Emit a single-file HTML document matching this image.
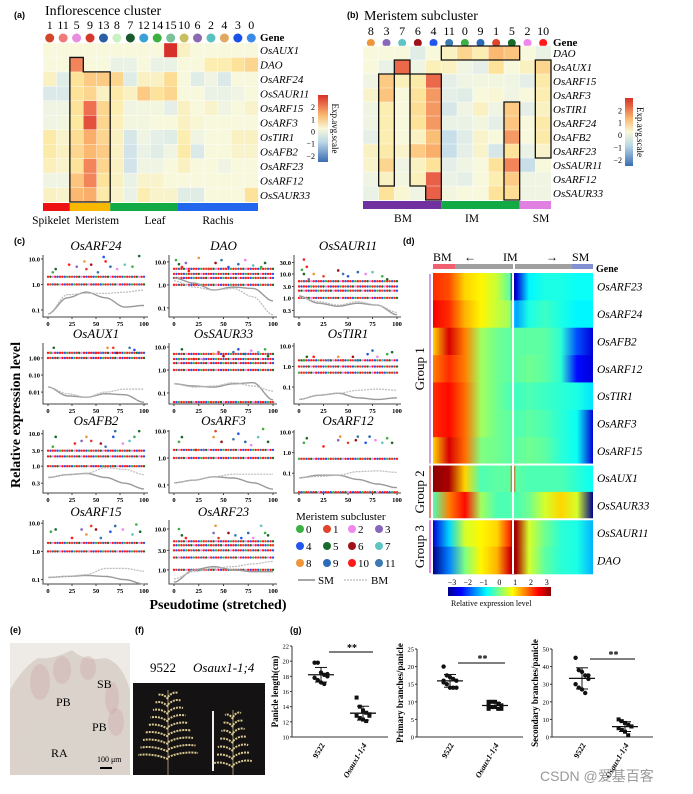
<!DOCTYPE html>
<html><head><meta charset="utf-8">
<style>
html,body{margin:0;padding:0;background:#fff;}
svg{display:block;}
text{font-family:"Liberation Serif","Noto Serif CJK SC",serif;}
.sans{font-family:"Liberation Sans","Noto Sans CJK SC",sans-serif;}
</style></head>
<body>
<svg id="fig" width="693" height="794" viewBox="0 0 693 794" xmlns="http://www.w3.org/2000/svg">
<defs>
<linearGradient id="divbar" x1="0" y1="1" x2="0" y2="0">
<stop offset="0" stop-color="#3b6eb0"/><stop offset="0.3" stop-color="#bcd8e8"/><stop offset="0.5" stop-color="#f8f8d8"/><stop offset="0.7" stop-color="#fbb870"/><stop offset="1" stop-color="#d7302a"/>
</linearGradient>
<linearGradient id="jetbar" x1="0" y1="0" x2="1" y2="0">
<stop offset="0" stop-color="#00008b"/><stop offset="0.125" stop-color="#0000ff"/><stop offset="0.375" stop-color="#00ffff"/><stop offset="0.625" stop-color="#ffff00"/><stop offset="0.875" stop-color="#ff0000"/><stop offset="1" stop-color="#8b0000"/>
</linearGradient>
</defs>
<g id="root"></g>
</svg>
<script>
// ---------- Panel (a) data ----------
const aClusters = ["1","11","5","9","13","8","7","12","14","15","10","6","2","4","3","0"];
const aClusterColors = ["#d2452a","#ee7a7a","#e78ee0","#d63a2a","#2a5fa8","#c8f0c0","#1a5a2a","#3aa0d8","#3ab040","#7ac09a","#c8c060","#8a6ab0","#5ac0c0","#e0a860","#1a50e8","#3a8ae8"];
const aGenes = ["OsAUX1","DAO","OsARF24","OsSAUR11","OsARF15","OsARF3","OsTIR1","OsAFB2","OsARF23","OsARF12","OsSAUR33"];
const aValues = [
[0,0,0,0,0,0,0,0,0,3,0.3,0,0,0,0,0],
[0,0,2,0,0,-0.3,-0.3,0,-0.3,-0.3,0,0,0.5,0.5,0.8,1],
[0.3,-0.5,0.8,1.2,1.2,1,-0.5,0.3,0.3,0.9,0,-0.5,-0.2,-0.6,0,0],
[-0.6,-0.6,0.8,1,0.3,0.6,0.3,1.2,0.8,1,0,0,-0.3,-0.3,-0.2,0],
[-0.2,-0.2,0.8,2.2,1,0.5,-0.2,-0.1,-0.1,-0.4,0.3,0,0.2,-0.2,0,0.2],
[-0.2,-0.1,0.7,2.6,1,0.4,-0.1,-0.1,0,0,0.3,0.1,0,0,0,0],
[0.6,0.2,0.9,1.6,1,0.3,-0.7,-0.2,-0.4,-0.5,0.5,-0.2,0,0,0.3,0.3],
[0.6,0.3,1,1.5,1.2,0.3,-0.8,-0.3,-0.5,-0.2,0.6,-0.6,0,0,0.2,0.2],
[0.4,0.2,0.8,2,1,0.3,-0.8,-0.2,-0.2,0,0.3,0,0,-0.2,0,0],
[-0.2,-0.2,1.3,2,0.8,0.3,-0.3,0.2,0.2,0,0,0,0,0,0,0],
[0.3,0.2,1.5,1.6,0.6,0.2,-0.3,0.5,0.2,0.2,-0.5,-0.5,0,0,0,0.8]];
const aGroups = ["Spikelet","Meristem","Leaf","Rachis"];
const aGroupSpans = [[0,2],[2,5],[5,10],[10,16]];
const aGroupColors = ["#ee1111","#f8b800","#11aa44","#2266ee"];
const aGroupLabelX = [51,97,155,218];

// ---------- Panel (b) data ----------
const bClusters = ["8","3","7","6","4","11","0","9","1","5","2","10"];
const bClusterColors = ["#f0953a","#8866bb","#5ec4c4","#a0101a","#2255ee","#3a7ab0","#3cb043","#2a6ab8","#e0442a","#1a6b2a","#ee88ee","#ff1a1a"];
const bGenes = ["DAO","OsAUX1","OsARF15","OsARF3","OsTIR1","OsARF24","OsAFB2","OsARF23","OsSAUR11","OsARF12","OsSAUR33"];
const bValues = [
[0,0,0,-0.5,0,0.3,1,0.5,1.5,1.3,0,-0.3],
[0,-0.3,2.3,-0.2,0.4,0.3,-0.2,-0.4,0.8,0,0.3,1],
[-0.2,1.2,0.4,0.6,2.3,-0.4,-0.2,-0.1,-0.1,-0.2,-0.4,0.6],
[0.2,1.3,0,0.8,1.8,-0.4,-0.5,0,0.1,-0.2,0,0.5],
[-0.2,0.5,0,0.9,1.8,-0.7,-0.2,0.3,-0.2,1.2,-0.4,0.3],
[-0.2,0.5,0,0.8,1.8,-0.3,-0.3,-0.1,-0.4,1.3,0,0.6],
[-0.4,0.5,0,0.3,1.4,-1,-0.5,0.2,0,1.8,0,0.6],
[0.3,0.6,0.2,1.2,1.6,-1,-0.4,0.2,-0.7,0.8,-0.3,0.2],
[0.2,1,-0.2,0.3,0.8,-0.4,-0.2,0,0.8,2,-1,0],
[-0.2,0.3,-0.1,0.4,2.4,-0.3,-0.4,0,0.5,1.2,-0.2,-0.2],
[-0.3,0.8,0.1,-0.2,2.4,-0.1,0,0,0.8,0.9,-0.2,-0.2]];
const bGroups = ["BM","IM","SM"];
const bGroupSpans = [[0,5],[5,10],[10,12]];
const bGroupColors = ["#7030a0","#11aa44","#e080e0"];
const bGroupLabelX = [403,472,541];

// ---------- Panel (d) data ----------
const dGenes = ["OsARF23","OsARF24","OsAFB2","OsARF12","OsTIR1","OsARF3","OsARF15","OsAUX1","OsSAUR33","OsSAUR11","DAO"];
const dPositions = [0,0.1,0.2,0.3,0.4,0.48,0.5,0.52,0.6,0.7,0.8,0.9,1];
const dValues = [
[2,1.8,1,0.8,0.4,-0.2,-3,-2.5,-0.8,-0.6,-0.6,-0.7,-0.7],
[2.3,2,1.2,0.8,0.4,0.2,-1,-1.3,-0.6,-0.4,-0.6,-0.8,-0.8],
[1,2.5,1.5,0.2,-0.1,-0.2,-0.2,-0.2,-0.2,-0.2,-0.5,-1.8,-2.5],
[1.5,2,1.5,0.2,-0.1,-0.2,-0.2,-0.2,-0.1,-0.2,-0.5,-2.2,-2.5],
[2,2.2,1.6,0.2,-0.1,-0.3,-0.3,-0.4,-0.3,-0.4,-0.5,-0.6,-0.9],
[2,2.2,1.6,0.2,-0.1,-0.2,-0.2,-0.3,-0.2,-0.3,-0.5,-0.7,-2.5],
[1,2.5,1.6,0,-0.1,-0.2,-0.2,-0.2,-0.1,-0.2,-0.5,-0.7,-2.5],
[3,2.8,1,-0.3,-0.2,-0.2,2,-0.2,-0.3,-0.3,-0.3,-0.5,-0.7],
[-0.3,1.5,2.2,0.2,-0.3,-0.3,-0.2,-0.3,-0.1,0.5,1,0.5,-3.5],
[-2.5,-1,0.5,0.8,1,2,3,2.8,0.5,-0.1,-0.5,-0.6,-1.2],
[-3,-1.5,0,0.8,1.2,2.5,3,2.8,0.5,-0.2,-0.5,-0.6,-1.2]];
const dGroupNames = ["Group 1","Group 2","Group 3"];
const dGroupRows = [[0,7],[7,9],[9,11]];
const dGroupColors = ["#c8a0f0","#f08080","#f080e0"];
const dTickLabels = ["\u22123","\u22122","\u22121","0","1","2","3"];

// ---------- Panel (c) data ----------
const cTitles = ["OsARF24","DAO","OsSAUR11","OsAUX1","OsSAUR33","OsTIR1","OsAFB2","OsARF3","OsARF12","OsARF15","OsARF23"];
const cTicks = [[0.1,1,10],[0.1,1,10],[0.3,1,3,10,30],[0.01,0.1,1],[0.1,1,10],[0.1,1,10],[0.3,1,3,10],[0.1,1,10],[0.1,1,10],[0.1,1,10],[1,3,10]];
const cTickLabels = [["0.1","1.0","10.0"],["0.1","1.0","10.0"],["0.3","1.0","3.0","10.0","30.0"],["0.01","0.10","1.00"],["0.1","1.0","10.0"],["0.1","1.0","10.0"],["0.3","1.0","3.0","10.0"],["0.1","1.0","10.0"],["0.1","1.0","10.0"],["0.1","1.0","10.0"],["1.0","3.0","10.0"]];
const cYDomain = [[0.053,14.3],[0.04,20],[0.16,62],[0.002,7.6],[0.033,15],[0.015,14],[0.15,13],[0.05,11],[0.011,12.5],[0.07,13],[0.45,16.6]];
const cBands = [[1,2],[1,2,3,5],[1,2,3,5],[1,2],[0.04,1,2,3,5],[0.5,1,2],[1,2,3],[1,2],[0.012,0.5],[1,2],[1,2,3,4,5]];
const cPoints = [
[[5,3],[8,4],[22,6],[30,5],[38,8],[40,4],[45,6],[52,3],[58,12],[65,5],[72,4],[80,6],[88,5],[95,13],[60,8]],
[[2,12],[5,8],[8,6],[12,9],[25,15],[35,5],[42,9],[48,12],[55,6],[65,8],[72,12],[80,7],[88,6],[92,9],[15,4]],
[[3,15],[5,10],[8,20],[10,6],[15,10],[25,8],[40,14],[45,10],[50,8],[60,12],[68,10],[75,12],[85,8],[90,6],[5,40]],
[[3,2],[6,4],[50,2],[55,2],[62,4],[68,4],[72,2],[85,4],[90,3],[95,2]],
[[5,3],[8,8],[20,3],[30,3],[40,5],[45,6],[50,4],[60,6],[65,8],[72,5],[78,7],[85,6],[92,8],[95,4]],
[[5,2],[8,3],[15,3],[30,2],[40,3],[45,2],[55,3],[60,2],[70,4],[75,6],[80,3],[85,2],[90,4],[95,5]],
[[5,4],[8,8],[28,5],[35,6],[40,8],[45,6],[55,5],[60,4],[68,8],[70,12],[78,5],[85,6],[90,8],[95,12]],
[[5,4],[8,6],[22,2],[30,2],[40,6],[42,10],[48,4],[60,5],[65,8],[72,4],[78,3],[85,6],[90,12],[95,4]],
[[5,3],[8,5],[25,2],[40,4],[42,6],[50,3],[58,4],[60,6],[68,3],[72,6],[78,4],[85,3],[90,5],[95,3]],
[[3,5],[8,6],[25,3],[35,6],[40,4],[45,8],[50,6],[55,3],[65,5],[70,8],[78,6],[88,4],[92,9],[96,5]],
[[5,10],[8,7],[12,6],[40,8],[42,12],[45,6],[55,8],[62,7],[68,6],[75,8],[80,6],[88,12],[92,8],[95,7]]];
const cSM = [[0.07,0.3,0.5,0.3,0.13,0.15],[2,1.2,0.6,0.8,0.7,0.2],[1.2,0.6,0.45,0.6,0.5,0.2],[0.02,0.006,0.005,0.008,0.007,0.0025],[0.25,0.2,0.18,0.25,0.28,0.05],[0.025,0.04,0.05,0.03,0.025,0.03],[0.45,0.55,0.6,0.45,0.3,0.2],[0.12,0.15,0.2,0.18,0.12,0.07],[0.06,0.08,0.08,0.05,0.03,0.02],[0.12,0.13,0.14,0.13,0.1,0.07],[0.5,1,1.2,1,0.9,0.9]];
const cBM = [[0.07,0.4,0.45,0.45,0.5,0.6],[1.5,0.8,0.6,0.7,0.3,0.05],[1.1,0.7,0.5,0.7,0.5,0.25],[0.02,0.008,0.005,0.01,0.015,0.015],[0.25,0.18,0.2,0.28,0.2,0.12],[0.025,0.04,0.05,0.07,0.08,0.07],[0.45,0.55,0.6,0.9,0.8,0.55],[0.12,0.15,0.2,0.25,0.25,0.25],[0.06,0.07,0.08,0.12,0.13,0.11],[0.12,0.13,0.15,0.25,0.25,0.2],[0.6,0.9,1.1,1.2,1.4,1.6]];
const cCurveX = [0,20,40,60,80,100];
const cXTicks = [0,25,50,75,100];
const subColors = ["#3cb043","#e0442a","#ee88ee","#8866bb","#2255ee","#1a6b2a","#a0101a","#5ec4c4","#f0953a","#2a6ab8","#ff1a1a","#3a7ab0"];

// ---------- Panel (g) data ----------
const gTitles = ["Panicle length(cm)","Primary branches/panicle","Secondary branches/panicle"];
const gCategories = ["9522","Osaux1-1;4"];
const gYTicks = [[10,12,14,16,18,20,22],[0,5,10,15,20,25],[0,10,20,30,40,50]];
const gWT = [[19.8,19.8,18.5,18.2,18,17.8,17.5,17.2,17,18.3],[20,17.5,17,16.5,16,15.5,15,14,14,14,16],[45,38,37,35,33,30,28,27,25,35]];
const gMut = [[15.2,14,13.5,13.2,13,12.8,12.5,12.3,12.1,12.8],[10,10,10,9.5,9,9,8.5,8.5,8,8,8],[10,9,8,7,6,5,4,3,1,6]];

const NS = "http://www.w3.org/2000/svg";
const root = document.getElementById("root");
function mk(tag, attrs, parent){
  const el = document.createElementNS(NS, tag);
  for (const k in attrs) el.setAttribute(k, attrs[k]);
  (parent || root).appendChild(el);
  return el;
}
function txt(s, attrs, parent){ const t = mk("text", attrs, parent); t.textContent = s; return t; }
function hex(c){ return [parseInt(c.slice(1,3),16),parseInt(c.slice(3,5),16),parseInt(c.slice(5,7),16)]; }
function interp(stops, v){
  if (v <= stops[0][0]) return stops[0][1];
  for (let i=1;i<stops.length;i++){
    if (v <= stops[i][0]){
      const t=(v-stops[i-1][0])/(stops[i][0]-stops[i-1][0]);
      const a=hex(stops[i-1][1]), b=hex(stops[i][1]);
      return "rgb("+a.map((x,j)=>Math.round(x+(b[j]-x)*t)).join(",")+")";
    }
  }
  return stops[stops.length-1][1];
}
const divStops=[[-2.5,"#3b6eb0"],[-1,"#c8dfea"],[-0.3,"#eaf2e6"],[0,"#f8f8dc"],[0.7,"#fde8a0"],[1.5,"#fbb870"],[2.2,"#ee7050"],[3,"#d7302a"]];
const jetStops=[[-3,"#00008b"],[-2.25,"#0000ff"],[-0.75,"#00ffff"],[0,"#80ff80"],[0.75,"#ffff00"],[2.25,"#ff0000"],[3,"#8b0000"]];

// ---------- Panel labels ----------
[["(a)",14,18],["(b)",347,18],["(c)",14,244],["(d)",403,244],["(e)",10,633],["(f)",135,633],["(g)",290,633]].forEach(p=>{
  const t = txt(p[0],{x:p[1],y:p[2],"font-size":9,"font-weight":"bold",class:"sans"});
  
  
});

// ---------- Heatmap helper for (a) and (b) ----------
function heat(cfg){
  const g = mk("g",{});
  
  
  const nC=cfg.cols.length, nR=cfg.genes.length;
  const cw=(cfg.x1-cfg.x0)/nC, rh=(cfg.y1-cfg.y0)/nR;
  txt(cfg.title,{x:cfg.titleX,y:cfg.titleY,"font-size":14},g);
  cfg.cols.forEach((c,i)=>{
    const cx=cfg.x0+cw*(i+0.5);
    const t=txt(c,{x:cx,y:cfg.numY,"font-size":12,"text-anchor":"middle"},g);
    
    
    const d=mk("circle",{cx:cx,cy:cfg.dotY,r:cfg.dotR,fill:cfg.colColors[i]},g);
    
    
  });
  txt("Gene",{x:cfg.x1+2,y:cfg.dotY+3,"font-size":11,"font-weight":"bold"},g);
  cfg.values.forEach((row,r)=>{
    row.forEach((v,c)=>{
      const cell=mk("rect",{x:cfg.x0+c*cw,y:cfg.y0+r*rh,width:cw+0.3,height:rh+0.3,fill:interp(divStops,v),stroke:"#fff","stroke-width":0.4},g);
      
      
    });
    const gl=txt(cfg.genes[r],{x:cfg.x1+2,y:cfg.y0+rh*(r+0.5)+4,"font-size":11,"font-style":"italic"},g);
    
    
  });
  cfg.boxes.forEach(b=>{
    const pts=b.map(p=>(cfg.x0+p[0]*cw)+","+(cfg.y0+p[1]*rh)).join(" ");
    const pl=mk("polygon",{points:pts,fill:"none",stroke:"#111","stroke-width":1.3},g);
    
    
  });
  cfg.groupSpans.forEach((s,i)=>{
    const br=mk("rect",{x:cfg.x0+s[0]*cw,y:cfg.y1+1,width:(s[1]-s[0])*cw,height:8,fill:cfg.groupColors[i]},g);
    
    
    const lt=txt(cfg.groups[i],{x:cfg.labelX[i],y:cfg.y1+22,"font-size":11.5,"text-anchor":"middle"},g);
    
    
  });
  const cb=mk("rect",{x:cfg.cbX,y:cfg.cbY0,width:cfg.cbW,height:cfg.cbY1-cfg.cbY0,fill:"url(#divbar)"},g);
  
  
  const lab=["2","1","0","\u22121","\u22122"], vals=[2,1,0,-1,-2];
  vals.forEach((v,i)=>{
    const y=cfg.cbY1-(v+2.5)/5.5*(cfg.cbY1-cfg.cbY0);
    txt(lab[i],{x:cfg.cbX-3,y:y+3,"font-size":8,"text-anchor":"end"},g);
  });
  const yc=(cfg.cbY0+cfg.cbY1)/2;
  txt("Exp.avg.scale",{x:cfg.cbX+cfg.cbW+4,y:yc,"font-size":9,"text-anchor":"middle",transform:"rotate(90 "+(cfg.cbX+cfg.cbW+4)+" "+yc+")"},g);
}
heat({name:"heatmap-a",title:"Inflorescence cluster",titleX:45,titleY:15,numY:29,dotY:38,dotR:4.5,cols:aClusters,colColors:aClusterColors,genes:aGenes,values:aValues,
  x0:43,x1:258,y0:43,y1:202,groups:aGroups,groupSpans:aGroupSpans,groupColors:aGroupColors,labelX:aGroupLabelX,
  boxes:[[[2,1],[3,1],[3,2],[5,2],[5,11],[2,11]]],cbX:318,cbY0:95,cbY1:162,cbW:10});
heat({name:"heatmap-b",title:"Meristem subcluster",titleX:364,titleY:20,numY:35,dotY:43,dotR:4,cols:bClusters,colColors:bClusterColors,genes:bGenes,values:bValues,
  x0:363,x1:551,y0:46,y1:200,groups:bGroups,groupSpans:bGroupSpans,groupColors:bGroupColors,labelX:bGroupLabelX,
  boxes:[[[5,0],[10,0],[10,1],[5,1]],[[2,1],[3,1],[3,2],[2,2]],[[1,2],[2,2],[2,10],[1,10]],[[3,2],[5,2],[5,11],[4,11],[4,10],[3,10]],[[9,4],[10,4],[10,11],[9,11]],[[11,1],[12,1],[12,8],[11,8]]],
  cbX:625,cbY0:98,cbY1:166,cbW:8});

// ---------- Panel (c) ----------
const colX=[[48,144],[174,273],[299,397]];
const rowY=[[255,317],[343,404],[430,493],[520,584]];
const cTitleY=[250,338,425,516];
const cg = mk("g",{});


const bandColorCycle=[10,4,0,10,1,9,10,5,2,10,4,10];
cTitles.forEach((title,k)=>{
  const col=k%3, row=Math.floor(k/3);
  const [xa,xb]=colX[col], [ya,yb]=rowY[row];
  const sx=v=>xa+(xb-xa)*v/100;
  const [lo,hi]=cYDomain[k];
  const sy=v=>yb-(Math.log10(v)-Math.log10(lo))/(Math.log10(hi)-Math.log10(lo))*(yb-ya);
  const g=mk("g",{},cg);
  
  
  mk("path",{d:"M"+(xa-5)+" "+ya+" V"+yb+" H"+(xb+4),fill:"none",stroke:"#444","stroke-width":1},g);
  txt(title,{x:(xa+xb)/2,y:cTitleY[row],"font-size":13,"font-style":"italic","text-anchor":"middle"},g);
  cTicks[k].forEach((t,i)=>{
    const y=sy(t);
    mk("line",{x1:xa-7,x2:xa-5,y1:y,y2:y,stroke:"#444"},g);
    txt(cTickLabels[k][i],{x:xa-8,y:y+2.5,"font-size":6.5,"font-weight":"bold","text-anchor":"end"},g);
  });
  cXTicks.forEach(t=>{
    const x=sx(t);
    mk("line",{x1:x,x2:x,y1:yb,y2:yb+2,stroke:"#444"},g);
    txt(String(t),{x:x,y:yb+9,"font-size":6.5,"font-weight":"bold","text-anchor":"middle"},g);
  });
  cBands[k].forEach(b=>{
    for(let i=0;i<=40;i++){
      const d=mk("circle",{cx:sx(i*2.5),cy:sy(b),r:1.2,fill:subColors[bandColorCycle[(i+Math.round(b*3))%bandColorCycle.length]]},g);
      
      
    }
  });
  cPoints[k].forEach((p,i)=>{
    const d=mk("circle",{cx:sx(p[0]),cy:sy(p[1]),r:1.3,fill:subColors[(i*5)%12]},g);
    
    
  });
  const line=(arr)=>{
    let d="";
    for(let i=0;i<=50;i++){
      const x=i*2; let j=Math.min(4,Math.floor(x/20)); const t=(x-cCurveX[j])/20;
      const s=t*t*(3-2*t);
      const lv=Math.log10(arr[j])+(Math.log10(arr[j+1])-Math.log10(arr[j]))*s;
      d+=(i?"L":"M")+sx(x).toFixed(1)+" "+sy(Math.pow(10,lv)).toFixed(1);
    }
    return d;
  };
  const sm=mk("path",{d:line(cSM[k]),fill:"none",stroke:"#999","stroke-width":1.4},g);
  
  
  const bm=mk("path",{d:line(cBM[k]),fill:"none",stroke:"#bbb","stroke-width":1.2,"stroke-dasharray":"2 1"},g);
  
  
});
const ylab=txt("Relative expression level",{x:20,y:415,"font-size":14,"font-weight":"bold","text-anchor":"middle",transform:"rotate(-90 20 415)"},cg);


const xlab=txt("Pseudotime (stretched)",{x:218,y:609,"font-size":14,"font-weight":"bold","text-anchor":"middle"},cg);


const lg=mk("g",{},cg);


txt("Meristem subcluster",{x:296,y:520,"font-size":11},lg);
const legX=[300,327,352,379];
for(let i=0;i<12;i++){
  const x=legX[i%4], y=532+Math.floor(i/4)*17;
  const e=mk("circle",{cx:x,cy:y-3,r:4,fill:subColors[i]},lg);
  
  
  txt(String(i),{x:x+6,y:y+1,"font-size":11},lg);
}
mk("line",{x1:298,x2:315,y1:580,y2:580,stroke:"#888","stroke-width":1.5},lg);
txt("SM",{x:318,y:584,"font-size":11},lg);
mk("line",{x1:344,x2:367,y1:580,y2:580,stroke:"#bbb","stroke-width":1.2,"stroke-dasharray":"2 1"},lg);
txt("BM",{x:371,y:584,"font-size":11},lg);

// ---------- Panel (d) ----------
const dg=mk("g",{});


const dx0=433,dx1=593,dy0=273,dy1=574, drh=(dy1-dy0)/dGenes.length;
const defs=document.querySelector("defs");
dGenes.forEach((gname,r)=>{
  const lg2=mk("linearGradient",{id:"dg"+r,x1:0,y1:0,x2:1,y2:0},defs);
  dPositions.forEach((p,i)=>mk("stop",{offset:p,"stop-color":interp(jetStops,dValues[r][i])},lg2));
  const rr=mk("rect",{x:dx0,y:dy0+r*drh,width:dx1-dx0,height:drh+0.3,fill:"url(#dg"+r+")"},dg);
  
  
  const t=txt(gname,{x:dx1+4,y:dy0+(r+0.5)*drh+4,"font-size":11.5,"font-style":"italic"},dg);
  
  
});
mk("rect",{x:dx0+(dx1-dx0)*0.5-1,y:dy0-10,width:2,height:dy1-dy0+10,fill:"#fff"},dg);
dGroupRows.forEach((gr,i)=>{
  const ya=dy0+gr[0]*drh, yb=dy0+gr[1]*drh;
  if(i>0) mk("rect",{x:dx0-6,y:ya-1,width:dx1-dx0+6,height:2,fill:"#fff"},dg);
  mk("rect",{x:dx0-4,y:ya+1,width:2,height:yb-ya-2,fill:dGroupColors[i]},dg);
  const cy=(ya+yb)/2;
  const t=txt(dGroupNames[i],{x:424,y:cy,"font-size":13,"text-anchor":"middle",transform:"rotate(-90 424 "+cy+")"},dg);
  
  
});
mk("rect",{x:433,y:264,width:22,height:5,fill:"#f06070"},dg);
mk("rect",{x:455,y:264,width:58,height:5,fill:"#a0a0a0"},dg);
mk("rect",{x:515,y:264,width:57,height:5,fill:"#a0a0a0"},dg);
mk("rect",{x:572,y:264,width:21,height:5,fill:"#8090d0"},dg);
txt("BM",{x:433,y:261,"font-size":12},dg);
txt("\u2190",{x:464,y:261,"font-size":12},dg);
txt("IM",{x:503,y:261,"font-size":12},dg);
txt("\u2192",{x:546,y:261,"font-size":12},dg);
txt("SM",{x:572,y:261,"font-size":12},dg);
txt("Gene",{x:596,y:272,"font-size":10,"font-weight":"bold"},dg);
const jb=mk("rect",{x:448,y:587,width:103,height:9,fill:"url(#jetbar)"},dg);


dTickLabels.forEach((l,i)=>{
  const v=i-3;
  const x=448+(v+3)/6*103*0.92+4;
  txt(l,{x:x,y:585,"font-size":8,"text-anchor":"middle"},dg);
});
txt("Relative expression level",{x:451,y:606,"font-size":8},dg);

// ---------- Panel (e) photo ----------
const eg=mk("g",{});


mk("rect",{x:10,y:643,width:120,height:132,fill:"#dcd2cc"},eg);
mk("path",{d:"M10 643 H130 V690 Q122 662 105 658 Q85 662 72 650 Q52 660 38 658 Q22 668 10 690 Z",fill:"#eeeae6"},eg);
[[40,682,10,18],[62,670,9,14],[88,668,8,12],[112,698,7,16],[116,722,8,14]].forEach(c=>{
  mk("ellipse",{cx:c[0],cy:c[1],rx:c[2],ry:c[3],fill:"#c8a0a0",opacity:0.3},eg);
});
mk("ellipse",{cx:65,cy:745,rx:45,ry:28,fill:"#d8d4cc",opacity:0.6},eg);
txt("PB",{x:56,y:706,"font-size":12},eg);
txt("SB",{x:97,y:688,"font-size":12},eg);
txt("PB",{x:92,y:731,"font-size":12},eg);
txt("RA",{x:51,y:757,"font-size":12},eg);
txt("100 \u03bcm",{x:97,y:762,"font-size":8},eg);
mk("rect",{x:100,y:767,width:12,height:2,fill:"#000"},eg);

// ---------- Panel (f) photo ----------
const fg=mk("g",{});


txt("9522",{x:150,y:672,"font-size":13},fg);
txt("Osaux1-1;4",{x:193,y:672,"font-size":13,"font-style":"italic"},fg);
mk("rect",{x:133,y:683,width:132,height:92,fill:"#141212"},fg);
mk("line",{x1:168,y1:690,x2:168,y2:775,stroke:"#a09070","stroke-width":1},fg);
mk("line",{x1:233,y1:710,x2:233,y2:775,stroke:"#a09070","stroke-width":1},fg);
for(let i=0;i<9;i++){
  const y=695+i*7.5, w=10+i*2.5;
  mk("path",{d:"M168 "+(y+4)+" Q"+(168-w/2)+" "+(y-2)+" "+(168-w)+" "+y,fill:"none",stroke:"#d8c890","stroke-width":2,"stroke-dasharray":"2 1"},fg);
  mk("path",{d:"M168 "+(y+2)+" Q"+(168+w/2)+" "+(y-4)+" "+(168+w)+" "+(y-2),fill:"none",stroke:"#d8c890","stroke-width":2,"stroke-dasharray":"2 1"},fg);
}
for(let i=0;i<7;i++){
  const y=715+i*8, w=8+i*1.8;
  mk("path",{d:"M233 "+(y+4)+" Q"+(233-w/2)+" "+(y-2)+" "+(233-w)+" "+y,fill:"none",stroke:"#d8c890","stroke-width":2,"stroke-dasharray":"2 1"},fg);
  mk("path",{d:"M233 "+(y+2)+" Q"+(233+w/2)+" "+(y-4)+" "+(233+w)+" "+(y-2),fill:"none",stroke:"#d8c890","stroke-width":2,"stroke-dasharray":"2 1"},fg);
}
mk("rect",{x:212,y:711,width:2,height:60,fill:"#eee"},fg);

// ---------- Panel (g) ----------
const gBoxes=[{x0:292,x1:388,y0:646,y1:737,cx:[321,363]},{x0:417,x1:523,y0:649,y1:737,cx:[450,495]},{x0:552,x1:653,y0:649,y1:737,cx:[582,625]}];
gTitles.forEach((title,k)=>{
  const b=gBoxes[k];
  const g=mk("g",{});
  
  
  const ticks=gYTicks[k], lo=ticks[0], hi=ticks[ticks.length-1];
  const sy=v=>b.y1-(v-lo)/(hi-lo)*(b.y1-b.y0);
  mk("path",{d:"M"+b.x0+" "+b.y0+" V"+b.y1+" H"+b.x1,fill:"none",stroke:"#333","stroke-width":1},g);
  ticks.forEach(t=>{
    mk("line",{x1:b.x0-2,x2:b.x0,y1:sy(t),y2:sy(t),stroke:"#333"},g);
    txt(String(t),{x:b.x0-3,y:sy(t)+2.5,"font-size":6.5,"text-anchor":"end"},g);
  });
  const my=(b.y0+b.y1)/2;
  const yt=txt(title,{x:b.x0-14,y:my,"font-size":9,"font-weight":"bold","text-anchor":"middle",transform:"rotate(-90 "+(b.x0-14)+" "+my+")"},g);
  
  
  [gWT[k],gMut[k]].forEach((arr,ci)=>{
    const cx=b.cx[ci];
    const mean=arr.reduce((a,c)=>a+c,0)/arr.length;
    const sd=Math.sqrt(arr.reduce((a,c)=>a+(c-mean)*(c-mean),0)/(arr.length-1));
    arr.forEach((v,i)=>{
      const dx=((i%5)-2)*3.2;
      const d=mk(ci?"rect":"circle",ci?{x:cx+dx-2,y:sy(v)-2,width:4,height:4,fill:"#111"}:{cx:cx+dx,cy:sy(v),r:2.2,fill:"#111"},g);
      
      
    });
    mk("line",{x1:cx-13,x2:cx+13,y1:sy(mean),y2:sy(mean),stroke:"#111","stroke-width":1.3},g);
    mk("line",{x1:cx,x2:cx,y1:sy(mean-sd),y2:sy(mean+sd),stroke:"#111","stroke-width":1},g);
    mk("line",{x1:cx-6,x2:cx+6,y1:sy(mean-sd),y2:sy(mean-sd),stroke:"#111","stroke-width":1},g);
    mk("line",{x1:cx-6,x2:cx+6,y1:sy(mean+sd),y2:sy(mean+sd),stroke:"#111","stroke-width":1},g);
    const lx=cx+4, ly=b.y1+8;
    txt(gCategories[ci],{x:lx,y:ly,"font-size":8,"font-weight":"bold","font-style":ci?"italic":"normal","text-anchor":"end",transform:"rotate(-60 "+lx+" "+ly+")"},g);
  });
  const topY=b.y0+6+(k===1?8:(k===2?4:0));
  mk("line",{x1:b.cx[0]+8,x2:b.cx[1]+10,y1:topY,y2:topY,stroke:"#333","stroke-width":1.2},g);
  txt("**",{x:(b.cx[0]+b.cx[1])/2+10,y:topY-1,"font-size":10,"font-weight":"bold","text-anchor":"middle"},g);
});
const wm=txt("CSDN @爱基百客",{x:540,y:781,"font-size":14,fill:"#999",class:"sans"});


</script>
</body></html>
